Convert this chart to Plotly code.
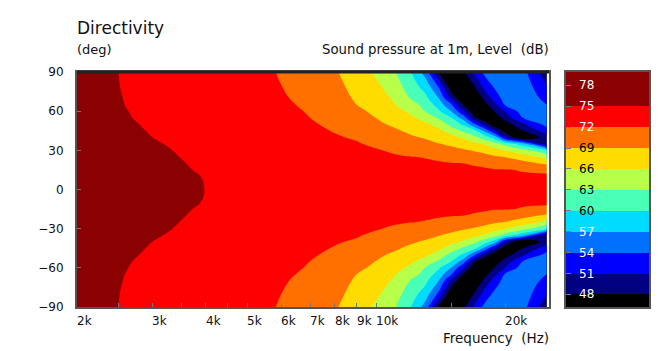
import plotly.graph_objects as go
import numpy as np

angles_half = [0, 10, 15, 20, 25, 30, 35, 40, 45, 50, 55, 60, 65, 70, 80, 90]
freqs = [2000, 2500, 3000, 4000, 5000, 6000, 7000, 8000, 9000, 10000, 11000, 12000,
         13000, 14000, 15000, 16000, 17000, 18000, 19000, 20000, 22000, 25000]
# level in dB per frequency, one value per angle in angles_half (mirrored for negative angles)
level_by_freq = [
    [78, 77.9, 77.8, 77.7, 77.6, 77.5, 77.4, 77.3, 77.2, 77.1, 77, 76.9, 76.8, 76.7, 76.6, 76.5],
    [77, 76.9, 76.8, 76.7, 76.55, 76.4, 76.25, 76.05, 75.8, 75.55, 75.35, 75.25, 75.15, 75.1, 75.03, 75],
    [76, 75.9, 75.75, 75.6, 75.45, 75.3, 75.15, 75, 74.8, 74.65, 74.5, 74.4, 74.35, 74.3, 74.2, 74.2],
    [74.97, 74.9, 74.75, 74.65, 74.55, 74.5, 74.4, 74.3, 74.2, 74.1, 74, 73.9, 73.8, 73.7, 73.6, 73.5],
    [74.4, 74.3, 74.2, 74.1, 74, 73.9, 73.8, 73.7, 73.6, 73.5, 73.3, 73.2, 73.1, 73, 72.7, 72.5],
    [74, 73.8, 73.7, 73.6, 73.5, 73.4, 73.3, 73.2, 73.1, 72.95, 72.7, 72.5, 72.2, 72.15, 72, 71.9],
    [73.7, 73.6, 73.5, 73.3, 73.2, 73, 72.8, 72.6, 72.4, 72.25, 72, 71.85, 71.8, 71.6, 71.2, 71],
    [73.5, 73.4, 73.3, 73.1, 72.9, 72.6, 72.4, 72.15, 71.9, 71.55, 71.1, 70.8, 70.5, 70.3, 69.8, 69.3],
    [73.4, 73.3, 73.2, 73, 72.8, 72.5, 72.15, 71.8, 71.2, 70.7, 70.2, 69.6, 69, 68.6, 68, 67.5],
    [73.3, 73.2, 73, 72.8, 72.5, 72.15, 71.6, 70.8, 70.2, 69.5, 68.95, 68.4, 67.9, 67.4, 66.5, 65.5],
    [73.2, 73.1, 72.8, 72.6, 72.25, 71.7, 71, 70.2, 69.4, 68.6, 67.9, 67, 66.2, 65.6, 64.4, 63.3],
    [73.2, 73, 72.7, 72.4, 72.05, 71.2, 70.3, 69.4, 68.5, 67.6, 66.6, 65.5, 64.4, 62.9, 61.5, 60.2],
    [73.1, 72.9, 72.6, 72.3, 71.9, 71, 69.9, 68.7, 67.7, 66.6, 64.9, 62.9, 62, 60.8, 58.6, 55.8],
    [73, 72.8, 72.5, 72.2, 71.6, 70.4, 69.1, 67.7, 66.6, 64.8, 62.5, 60.4, 58.7, 56.9, 53.2, 47.5],
    [72.9, 72.7, 72.4, 72.1, 71.1, 69.8, 68.4, 66.9, 64.6, 61.9, 59.9, 56.8, 54, 50, 45, 43],
    [72.8, 72.6, 72.3, 72, 70.6, 69.3, 67.5, 65.6, 62.4, 59.4, 55.4, 51.1, 47.5, 45, 44, 47.6],
    [72.7, 72.5, 72.3, 71.8, 70.3, 68.7, 66.8, 63.6, 60.4, 54.2, 48.2, 45.5, 44.5, 45, 48.6, 52],
    [72.6, 72.4, 72.2, 71.6, 69.9, 68, 65.6, 61.2, 55.8, 49, 46, 45, 47.2, 49.3, 52.6, 55],
    [72.5, 72.4, 72.1, 71.2, 69.3, 67, 64, 58, 50.3, 45.5, 46.5, 48.5, 50.7, 52.7, 54.9, 55.5],
    [72.4, 72.3, 72.1, 70.8, 68.9, 66, 62, 50.8, 46.5, 46.5, 49.2, 51.1, 54.4, 55.2, 56, 56],
    [72.4, 72.2, 71.9, 70, 67.6, 64, 58, 44.5, 48, 50.5, 54, 55.5, 56, 56.2, 55.8, 55],
    [72.7, 72.5, 71.3, 68.5, 65, 60.5, 48, 49.5, 52.7, 55, 56, 55.2, 54, 53, 51, 49],
]
tick_freqs = [2500, 3000, 3500, 4000, 4500, 5000, 6000, 7000, 8000, 9000, 10000, 15000, 20000]
label_freqs = [2000, 3000, 4000, 5000, 6000, 7000, 8000, 9000, 10000, 20000]
label_texts = ["2k", "3k", "4k", "5k", "6k", "7k", "8k", "9k", "10k", "20k"]
angle_ticks = [-90, -60, -30, 0, 30, 60, 90]
band_edges = [46.2, 48, 51, 54, 57, 60, 63, 66, 69, 72, 75, 79.9]
band_colors = ["#000000", "#000080", "#0000ff", "#0070ff", "#00dcff", "#4affb8",
               "#b8ff4a", "#ffdc00", "#ff7000", "#ff0000", "#8b0000"]
bar_ticks = [48, 51, 54, 57, 60, 63, 66, 69, 72, 75, 78]
bar_label_colors = ["white", "white", "white", "white", "black", "black", "black", "black", "white", "white", "white"]

half = np.array(level_by_freq).T
z = np.vstack([half[:0:-1], half])
y = [-a for a in angles_half[:0:-1]] + angles_half

ZMIN, ZMAX = 45, 78
n = len(band_colors)
scale = []
for i, c in enumerate(band_colors):
    scale += [[i / n, c], [(i + 1) / n, c]]

FONT = "DejaVu Sans"
W, H = 666, 351
L, R, T, B = 77, 549, 72, 307
BL, BR = 566, 649

fig = go.Figure()
fig.add_trace(go.Contour(x=freqs, y=y, z=z, zmin=ZMIN, zmax=ZMAX, colorscale=scale,
                         autocontour=False,
                         contours=dict(start=48, end=75, size=3, coloring="fill", showlines=False),
                         line=dict(width=0, smoothing=1.3), showscale=False, hoverinfo="skip"))
band_values = [[ZMIN + 3 * i + 1.5] for i in range(n)]
fig.add_trace(go.Heatmap(x=[0, 1], y=band_edges, z=band_values, zmin=ZMIN, zmax=ZMAX, colorscale=scale,
                         showscale=False, xaxis="x2", yaxis="y2", hoverinfo="skip"))

ann = []
def label(px, py, text, anchor, size):
    ann.append(dict(x=px / W, y=1 - py / H, xref="paper", yref="paper", text=text, showarrow=False,
                    xanchor=anchor, yanchor="middle", xshift=-2 if anchor == "left" else 2,
                    font=dict(family=FONT, size=size, color="#111")))

for f, t in zip(label_freqs, label_texts):
    ann.append(dict(x=np.log10(f), y=1 - 321 / H, xref="x", yref="paper", text=t, showarrow=False,
                    xanchor="left", yanchor="middle", xshift=-2, font=dict(family=FONT, size=12, color="#111")))
for v, c in zip(bar_ticks, bar_label_colors):
    ann.append(dict(x=0.155, y=v, xref="x2", yref="y2", text=str(v), showarrow=False,
                    xanchor="left", yanchor="middle", xshift=-2, font=dict(family=FONT, size=12, color=c)))
label(77, 28, "Directivity", "left", 17)
label(77, 50, "(deg)", "left", 13)
label(549, 50, "Sound pressure at 1m, Level  (dB)", "right", 13.3)
label(549, 338, "Frequency  (Hz)", "right", 13.5)

fig.update_layout(
    width=W, height=H, autosize=False, paper_bgcolor="white", plot_bgcolor="white",
    margin=dict(l=0, r=0, t=0, b=0, pad=0, autoexpand=False), showlegend=False, annotations=ann,
    xaxis=dict(type="log", range=[np.log10(2000), np.log10(25300)], domain=[L / W, R / W],
               tickvals=tick_freqs, ticktext=[""] * len(tick_freqs), ticks="inside", ticklen=4, tickcolor="#777",
               mirror=True, showline=True, linecolor="#555", linewidth=2, showgrid=False, zeroline=False),
    yaxis=dict(range=[-90, 90], domain=[1 - B / H, 1 - T / H], tickvals=angle_ticks, ticks="inside", ticklen=4,
               tickcolor="#777", mirror=True, showline=True, linecolor="#555", linewidth=2, showgrid=False,
               zeroline=False, ticklabelstandoff=9, tickfont=dict(family=FONT, size=12, color="#111")),
    xaxis2=dict(domain=[BL / W, BR / W], range=[0, 1], anchor="y2", showticklabels=False, ticks="",
                mirror=True, showline=True, linecolor="#555", linewidth=2, showgrid=False, zeroline=False),
    yaxis2=dict(domain=[1 - B / H, 1 - T / H], range=[46.2, 79.9], anchor="x2", tickvals=bar_ticks,
                ticktext=[""] * len(bar_ticks), ticks="inside", ticklen=5, tickcolor="#778", mirror=True, showline=True,
                linecolor="#555", linewidth=2, showgrid=False, zeroline=False),
    shapes=[dict(type="line", xref="x domain", yref="paper", x0=0, x1=1, y0=1 - 72 / H, y1=1 - 72 / H,
                 line=dict(color="#222", width=3))],
)
fig.write_html("out.html", config=dict(displayModeBar=False), post_script="document.body.style.margin='0';")
